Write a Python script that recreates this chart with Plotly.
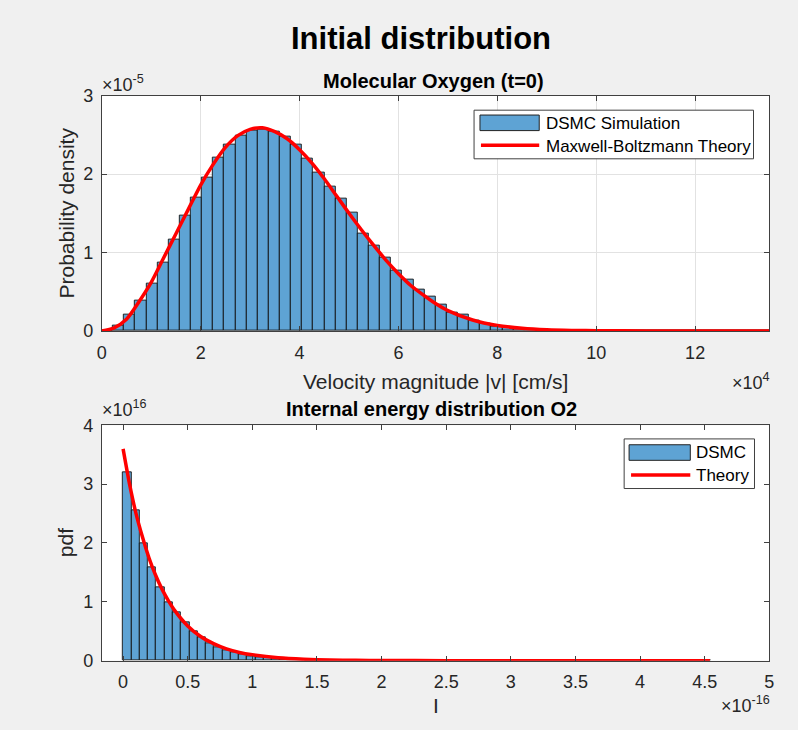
import numpy as np
import plotly.graph_objects as go

W, H = 798, 730
FONT = "Liberation Sans, Arial, Helvetica, sans-serif"
BAR_COLOR = "rgb(94,163,212)"
AX_COLOR = "#404040"
TXT_COLOR = "#262626"

# ---------------- speed distribution (t = 0) ----------------
SPEED_UNIT = 1e4          # cm/s per axis unit
SPEED_PDF_UNIT = 1e-5     # pdf per axis unit
speed_bin_width = 0.225   # in units of 1e4 cm/s
speed_pdf = [
    0.01, 0.07, 0.21, 0.39, 0.60, 0.87, 1.16, 1.47, 1.70, 1.96,
    2.21, 2.37, 2.49, 2.56, 2.57, 2.54, 2.48, 2.37, 2.20, 2.02,
    1.84, 1.69, 1.51, 1.24, 1.09, 0.94, 0.77, 0.65, 0.53, 0.44,
    0.33, 0.24, 0.21, 0.13, 0.094, 0.062, 0.045, 0.025, 0.016, 0.010,
    0.006, 0.004, 0.002, 0.001, 0.0, 0.0, 0.0, 0.0, 0.0, 0.0,
    0.0, 0.0, 0.0, 0.0, 0.0, 0.0, 0.0, 0.0, 0.0, 0.0,
]
mb_speed = [0, 0.25, 0.5, 0.75, 1.0, 1.25, 1.5, 1.75, 2.0, 2.25, 2.5, 2.75,
            3.0, 3.25, 3.5, 3.75, 4.0, 4.25, 4.5, 4.75, 5.0, 5.25, 5.5, 5.75,
            6.0, 6.25, 6.5, 6.75, 7.0, 7.5, 8.0, 8.5, 9.0, 9.5, 10.0, 11.0,
            12.0, 13.5]
mb_pdf = [0.0, 0.04, 0.15, 0.37, 0.62, 0.93, 1.24, 1.55, 1.86, 2.12, 2.34, 2.49,
          2.57, 2.59, 2.54, 2.45, 2.31, 2.14, 1.94, 1.72, 1.50, 1.29, 1.09, 0.90,
          0.73, 0.58, 0.46, 0.35, 0.26, 0.14, 0.07, 0.035, 0.016, 0.007, 0.003, 0.0005,
          0.0, 0.0]
speed_xticks = [0, 2, 4, 6, 8, 10, 12]
speed_yticks = [0, 1, 2, 3]

# ---------------- internal energy distribution ----------------
ENERGY_UNIT = 1e-16
ENERGY_PDF_UNIT = 1e16
energy_bin_width = 0.064
energy_pdf = [
    3.20, 2.55, 2.00, 1.59, 1.24, 1.00, 0.83, 0.65, 0.50, 0.39,
    0.30, 0.23, 0.17, 0.135, 0.11, 0.08, 0.065, 0.05, 0.04, 0.03,
    0.022, 0.016, 0.012, 0.009, 0.007, 0.005, 0.004, 0.003, 0.002, 0.0015,
    0.001, 0.0, 0.0, 0.0, 0.0, 0.0, 0.0, 0.0, 0.0, 0.0,
    0.0, 0.0, 0.0, 0.0, 0.0, 0.0, 0.0, 0.0, 0.0, 0.0,
    0.0, 0.0, 0.0, 0.0, 0.0, 0.0, 0.0, 0.0, 0.0, 0.0,
    0.0, 0.0, 0.0, 0.0, 0.0, 0.0, 0.0, 0.0, 0.0, 0.0, 0.0,
]
theory_energy = [0, 0.05, 0.1, 0.15, 0.2, 0.25, 0.3, 0.35, 0.4, 0.5, 0.6, 0.7,
                 0.8, 0.9, 1.0, 1.2, 1.4, 1.6, 1.8, 2.0, 2.5, 3.0, 4.54]
theory_pdf = [3.6, 3.0, 2.5, 2.1, 1.75, 1.46, 1.22, 1.02, 0.85, 0.59, 0.41, 0.29,
              0.20, 0.14, 0.10, 0.048, 0.023, 0.011, 0.006, 0.003, 0.0005, 0.0, 0.0]
energy_xticks = [0, 0.5, 1, 1.5, 2, 2.5, 3, 3.5, 4, 4.5, 5]
energy_yticks = [0, 1, 2, 3, 4]


def px(x):
    return x / W


def py(y):
    return 1 - y / H


def fmt(v):
    return "%g" % v


fig = go.Figure()

# histogram of speeds
sp_centers = (np.arange(len(speed_pdf)) + 0.5) * speed_bin_width
fig.add_trace(go.Bar(
    x=sp_centers * SPEED_UNIT, y=np.array(speed_pdf) * SPEED_PDF_UNIT,
    width=speed_bin_width * SPEED_UNIT,
    marker=dict(color=BAR_COLOR, line=dict(color="#111111", width=0.9)),
    name="DSMC Simulation", showlegend=False, xaxis="x", yaxis="y",
))
fig.add_trace(go.Scatter(
    x=np.array(mb_speed) * SPEED_UNIT, y=np.array(mb_pdf) * SPEED_PDF_UNIT,
    mode="lines", line=dict(color="#ff0000", width=3.5, shape="spline", smoothing=0.8),
    name="Maxwell-Boltzmann Theory", showlegend=False, xaxis="x", yaxis="y",
))

# histogram of internal energies
en_centers = (np.arange(len(energy_pdf)) + 0.5) * energy_bin_width
fig.add_trace(go.Bar(
    x=en_centers * ENERGY_UNIT, y=np.array(energy_pdf) * ENERGY_PDF_UNIT,
    width=energy_bin_width * ENERGY_UNIT,
    marker=dict(color=BAR_COLOR, line=dict(color="#111111", width=0.9)),
    name="DSMC", showlegend=False, xaxis="x2", yaxis="y2",
))
fig.add_trace(go.Scatter(
    x=np.array(theory_energy) * ENERGY_UNIT, y=np.array(theory_pdf) * ENERGY_PDF_UNIT,
    mode="lines", line=dict(color="#ff0000", width=3.5, shape="spline", smoothing=0.6),
    name="Theory", showlegend=False, xaxis="x2", yaxis="y2",
))

axis_common = dict(
    showline=True, linecolor=AX_COLOR, linewidth=1, mirror="ticks",
    ticks="inside", ticklen=5, tickcolor=AX_COLOR, tickwidth=1,
    tickfont=dict(family=FONT, size=18, color=TXT_COLOR), zeroline=False,
)

x_dom = [px(98), px(774)]
top_dom = [py(330), py(88)]
bot_dom = [py(669), py(427)]

fig.update_layout(
    width=W, height=H, autosize=False,
    margin=dict(l=0, r=0, t=0, b=0),
    paper_bgcolor="#f0f0f0", plot_bgcolor="white",
    barmode="overlay", bargap=0,
    xaxis=dict(domain=x_dom, anchor="y", range=[0, 13.5 * SPEED_UNIT],
               tickvals=[t * SPEED_UNIT for t in speed_xticks],
               ticktext=[fmt(t) for t in speed_xticks], ticklabelstandoff=5,
               showgrid=True, gridcolor="#e2e2e2", gridwidth=1, **axis_common),
    yaxis=dict(domain=top_dom, anchor="x", range=[0, 3 * SPEED_PDF_UNIT],
               tickvals=[t * SPEED_PDF_UNIT for t in speed_yticks],
               ticktext=[fmt(t) for t in speed_yticks], ticklabelstandoff=4,
               showgrid=True, gridcolor="#e2e2e2", gridwidth=1, **axis_common),
    xaxis2=dict(domain=x_dom, anchor="y2", range=[-0.165 * ENERGY_UNIT, 5 * ENERGY_UNIT],
                tickvals=[t * ENERGY_UNIT for t in energy_xticks],
                ticktext=[fmt(t) for t in energy_xticks], ticklabelstandoff=5,
                showgrid=False, **axis_common),
    yaxis2=dict(domain=bot_dom, anchor="x2", range=[0, 4 * ENERGY_PDF_UNIT],
                tickvals=[t * ENERGY_PDF_UNIT for t in energy_yticks],
                ticktext=[fmt(t) for t in energy_yticks], ticklabelstandoff=4,
                showgrid=False, **axis_common),
)

annotations = []


def label(text, x, y, size, xanchor="center", angle=0, color=TXT_COLOR):
    annotations.append(dict(
        text=text, x=px(x), y=py(y), xref="paper", yref="paper",
        xanchor=xanchor, yanchor="middle", showarrow=False, textangle=angle,
        font=dict(family=FONT, size=size, color=color),
    ))


label("<b>Initial distribution</b>", 421, 29, 31, color="black")
label("<b>Molecular Oxygen (t=0)</b>", 434, 73, 20, color="black")
label("<b>Internal energy distribution O2</b>", 432, 410, 20, color="black")
label("×10<sup>-5</sup>", 96, 76, 18, xanchor="left")
label("Probability density", 62, 209, 21, angle=-90)
label("Velocity magnitude |v| [cm/s]", 436, 382, 21)
label("×10<sup>4</sup>", 777, 382, 18, xanchor="right")
label("×10<sup>16</sup>", 96, 410, 18, xanchor="left")
label("pdf", 62, 548, 21, angle=-90)
label("I", 436, 715, 21)
label("×10<sup>-16</sup>", 777, 714, 18, xanchor="right")

# legends, drawn as boxes with sample patches
shapes = []


def rect(x0, y0, x1, y1, fill, line_color, line_width):
    shapes.append(dict(type="rect", xref="paper", yref="paper",
                       x0=px(x0), x1=px(x1), y0=py(y1), y1=py(y0),
                       fillcolor=fill, line=dict(color=line_color, width=line_width),
                       layer="above"))


def hline(x0, x1, y, color, width):
    shapes.append(dict(type="line", xref="paper", yref="paper",
                       x0=px(x0), x1=px(x1), y0=py(y), y1=py(y),
                       line=dict(color=color, width=width), layer="above"))


# top legend
rect(475, 103, 758, 153, "white", AX_COLOR, 1)
rect(481, 108, 541, 124, BAR_COLOR, "#222222", 1)
hline(482, 541, 139, "#ff0000", 3.5)
label("DSMC Simulation", 546, 117, 17, xanchor="left", color="black")
label("Maxwell-Boltzmann Theory", 546, 140, 17, xanchor="left", color="black")

# bottom legend
rect(627, 441, 759, 492, "white", AX_COLOR, 1)
rect(632, 447, 694, 463, BAR_COLOR, "#222222", 1)
hline(634, 694, 478, "#ff0000", 3.5)
label("DSMC", 698, 455, 17, xanchor="left", color="black")
label("Theory", 698, 479, 17, xanchor="left", color="black")

fig.update_layout(annotations=annotations, shapes=shapes)
fig.write_html("out.html")
